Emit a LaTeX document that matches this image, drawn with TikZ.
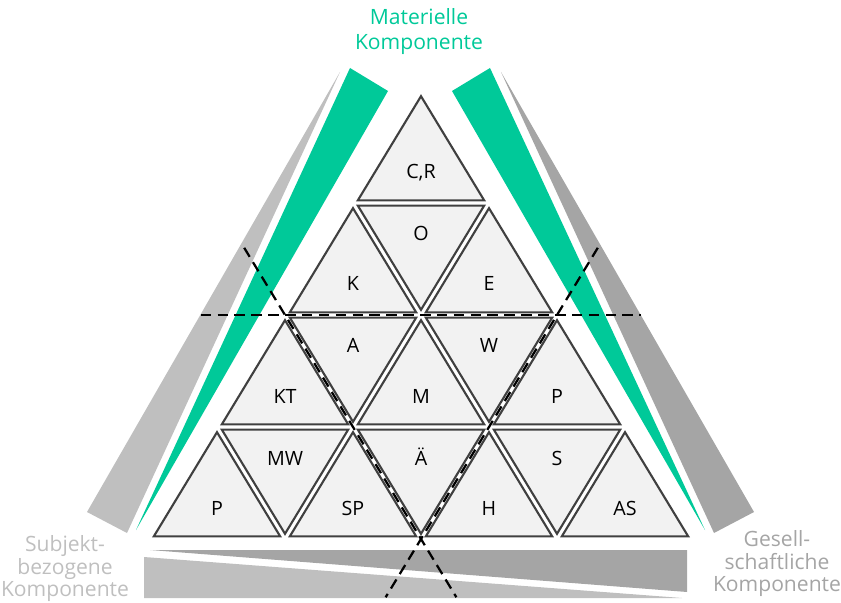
\documentclass[tikz,border=0pt]{standalone}
\usepackage{fontspec}
\setmainfont{Open Sans}
\usepackage{xcolor}
\usepackage{tikz}
\usetikzlibrary{calc}

\definecolor{matgreen}{HTML}{00C999}
\definecolor{subjgray}{HTML}{BFBFBF}
\definecolor{gesgray}{HTML}{A5A5A5}
\definecolor{triedge}{HTML}{404040}
\definecolor{trifill}{HTML}{F2F2F2}

\begin{document}
\begin{tikzpicture}[
    x=0.25mm, y=-0.25mm,
    tri/.style={draw=triedge, fill=trifill, line width=1.5pt},
    lbl/.style={anchor=base, inner sep=0pt, font=\fontsize{14}{16}\selectfont},
    cornertext/.style={align=center, inner sep=0pt, font=\fontsize{15}{16}\selectfont},
    dashline/.style={draw=black, line width=1.6pt, dash pattern=on 7.5pt off 4.5pt}
]
\useasboundingbox (0,0) rectangle (841,603);

\fill[subjgray] (340,72) -- (127,533) -- (87,512) -- cycle;
\fill[matgreen] (350,68) -- (388,91) -- (136,530) -- cycle;
\fill[matgreen] (490,68) -- (452,91) -- (705,530) -- cycle;
\fill[gesgray] (501,72) -- (714,533) -- (754,512) -- cycle;
\fill[gesgray] (150,550) -- (687,550) -- (687,592) -- cycle;
\fill[subjgray] (144,557) -- (682,598) -- (144,598) -- cycle;

\foreach \x/\y/\t/\n in {421/91/{C,R}/cr, 353/203/K/k, 489/203/E/e, 285/315/KT/kt, 421/315/M/m, 557/315/P/pw, 217/427/P/pp, 353/427/SP/sp, 489/427/H/h, 625/427/AS/as} {
    \draw[tri] (\x,\y+5.2) -- (\x-63.2,\y+109.4) -- (\x+63.2,\y+109.4) -- cycle;
    \node[lbl] (\n) at (\x,\y+88) {\t};
}
\foreach \x/\y/\t/\n in {421/315/O/o, 353/427/A/a, 489/427/W/w, 285/539/MW/mw, 421/539/Ä/ae, 557/539/S/s} {
    \draw[tri] (\x,\y-5.2) -- (\x-63.2,\y-109.4) -- (\x+63.2,\y-109.4) -- cycle;
    \node[lbl] (\n) at (\x,\y-74) {\t};
}

\coordinate (dl) at (285,315);
\coordinate (dr) at (557,315);
\coordinate (db) at (421,539);
\draw[dashline] ($(dl)!-0.31!(dr)$) -- ($(dl)!1.31!(dr)$);
\draw[dashline] ($(dl)!-0.30!(db)$) -- ($(dl)!1.26!(db)$);
\draw[dashline] ($(dr)!-0.30!(db)$) -- ($(dr)!1.26!(db)$);

\node[cornertext, text=matgreen, font=\fontsize{15}{17.8}\selectfont] (mat) at (419,32) {Materielle\\Komponente};
\node[cornertext, text=subjgray] (subj) at (65,569) {Subjekt-\\bezogene\\Komponente};
\node[cornertext, text=gesgray] (ges) at (777,564) {Gesell-\\schaftliche\\Komponente};

\end{tikzpicture}
\end{document}
